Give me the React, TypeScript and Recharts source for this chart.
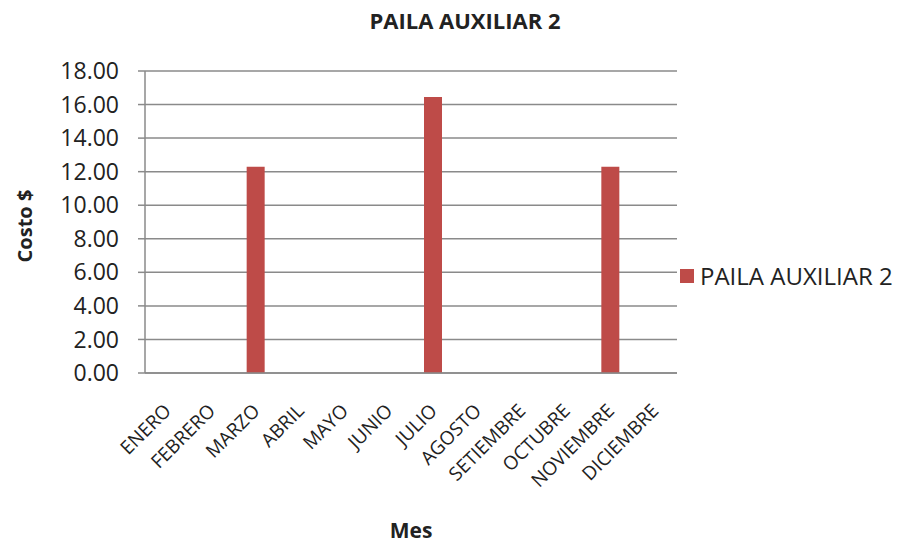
import { Bar, BarChart, CartesianGrid, Legend, XAxis, YAxis } from "recharts";

const months = [
  "ENERO",
  "FEBRERO",
  "MARZO",
  "ABRIL",
  "MAYO",
  "JUNIO",
  "JULIO",
  "AGOSTO",
  "SETIEMBRE",
  "OCTUBRE",
  "NOVIEMBRE",
  "DICIEMBRE",
];
const costs = [0, 0, 12.3, 0, 0, 0, 16.45, 0, 0, 0, 12.3, 0];
const yTicks = [0, 2, 4, 6, 8, 10, 12, 14, 16, 18];

const seriesName = "PAILA AUXILIAR 2";
const barColor = "#BE4B48";
const gridColor = "#8a8a8a";
const font = "'Open Sans', sans-serif";

const data = months.map((m, i) => ({ mes: m, costo: costs[i] }));

function MonthTick({ x, y, payload }: any) {
  // y already includes recharts' tick size + margin (~8px below the axis)
  const ax = x + 5;
  const ay = y + 31;
  return (
    <text
      x={ax}
      y={ay}
      transform={`rotate(-45 ${ax} ${ay})`}
      textAnchor="end"
      fontFamily={font}
      fontSize={19}
      fill="#222"
    >
      {payload.value}
    </text>
  );
}

function SeriesLegend() {
  return (
    <div style={{ display: "flex", alignItems: "center", fontFamily: font }}>
      <span
        style={{
          width: 14,
          height: 14,
          background: barColor,
          display: "inline-block",
          marginRight: 6,
        }}
      />
      <span style={{ fontSize: 24, color: "#222", lineHeight: "30px" }}>
        {seriesName}
      </span>
    </div>
  );
}

export default function App() {
  return (
    <div
      style={{
        position: "absolute",
        left: 0,
        top: 0,
        width: 898,
        height: 544,
        background: "#fff",
      }}
    >
      <div
        style={{
          position: "absolute",
          top: 5,
          left: 0,
          width: 930,
          textAlign: "center",
          fontFamily: font,
          fontWeight: 700,
          fontSize: 22,
          lineHeight: "30px",
          color: "#222",
        }}
      >
        {seriesName}
      </div>
      <BarChart
        width={898}
        height={544}
        data={data}
        margin={{ top: 71, right: 221, left: 0, bottom: 0 }}
      >
        <CartesianGrid
          vertical={false}
          stroke={gridColor}
          strokeWidth={1.5}
        />
        <XAxis
          dataKey="mes"
          height={171}
          interval={0}
          tickLine={false}
          axisLine={{ stroke: gridColor, strokeWidth: 1.5 }}
          tick={<MonthTick />}
          label={{
            content: () => (
              <text
                x={411}
                y={538}
                textAnchor="middle"
                fontFamily={font}
                fontWeight={700}
                fontSize={21}
                fill="#222"
              >
                Mes
              </text>
            ),
          }}
        />
        <YAxis
          width={145}
          domain={[0, 18]}
          ticks={yTicks}
          interval={0}
          tickFormatter={(v: number) => v.toFixed(2)}
          tick={{ fontFamily: font, fontSize: 23, fill: "#222" }}
          tickSize={7}
          tickMargin={19}
          tickLine={{ stroke: gridColor, strokeWidth: 1.5 }}
          axisLine={{ stroke: gridColor, strokeWidth: 1.5 }}
          label={{
            content: () => (
              <text
                x={32}
                y={226}
                transform="rotate(-90 32 226)"
                textAnchor="middle"
                fontFamily={font}
                fontWeight={700}
                fontSize={20}
                fill="#222"
              >
                Costo $
              </text>
            ),
          }}
        />
        <Legend
          layout="vertical"
          align="center"
          verticalAlign="middle"
          wrapperStyle={{ left: 680, top: 261, width: 218 }}
          content={<SeriesLegend />}
        />
        <Bar
          dataKey="costo"
          name={seriesName}
          fill={barColor}
          barSize={18}
          isAnimationActive={false}
        />
      </BarChart>
    </div>
  );
}
